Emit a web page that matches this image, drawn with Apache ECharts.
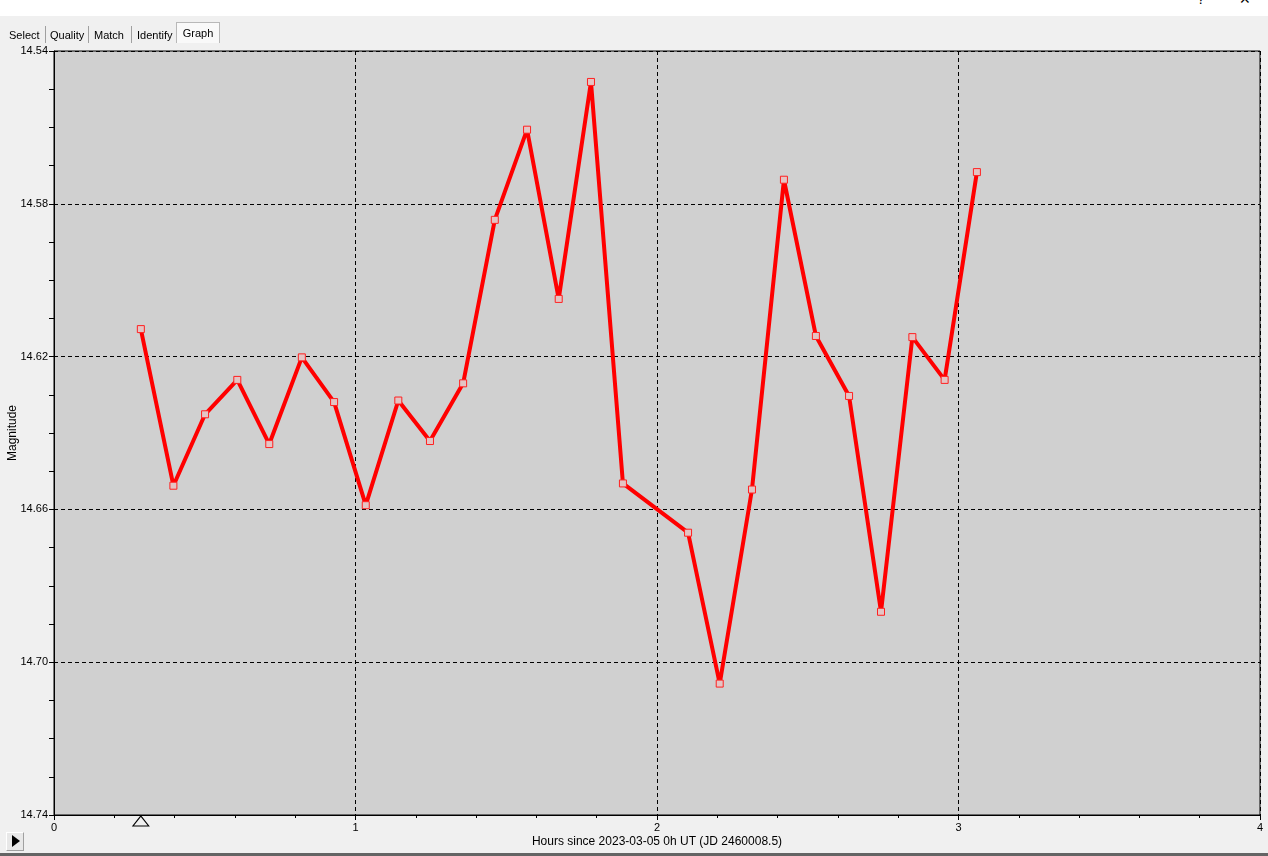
<!DOCTYPE html>
<html>
<head>
<meta charset="utf-8">
<script src="https://cdn.jsdelivr.net/npm/echarts@6/dist/echarts.min.js"></script>
<style>
  html, body { margin:0; padding:0; width:1268px; height:856px; overflow:hidden; background:#f0f0f0; font-family:"Liberation Sans", Arial, sans-serif; }
  #topbar { position:absolute; left:0; top:0; width:1268px; height:16px; background:#ffffff; z-index:2; overflow:hidden; }
  #topbar span { position:absolute; top:-9px; font-size:14px; color:#000; }
  #tabs { position:absolute; left:0; top:22px; height:22px; z-index:2; font-size:11px; color:#000; }
  .tab { position:absolute; top:5px; height:16px; line-height:16px; }
  .sep { position:absolute; top:4px; width:1px; height:17px; background:#a0a0a0; }
  #gtab { position:absolute; left:176px; top:0px; width:44px; height:21px; background:#f9f9f9; border:1px solid #b8b8b8; border-bottom:none; box-sizing:border-box; text-align:center; line-height:20px; }
  #play { position:absolute; left:6px; top:832px; width:18px; height:19px; background:#e8e8e8; border-top:1px solid #ffffff; border-left:1px solid #ffffff; border-right:1px solid #a0a0a0; border-bottom:1px solid #a0a0a0; box-sizing:border-box; z-index:2; }
  #play:after { content:""; position:absolute; left:5px; top:2px; border-left:8px solid #000; border-top:6px solid transparent; border-bottom:6px solid transparent; }
  #bottomline { position:absolute; left:0; top:853px; width:1268px; height:3px; background:#646464; z-index:2; }
  #chart { position:absolute; left:0; top:0; width:1268px; height:856px; z-index:1; }
</style>
</head>
<body>
<div id="topbar"><span style="left:1197px">?</span><span style="left:1239px">&#x2715;</span></div>
<div id="tabs">
  <div class="tab" style="left:9px">Select</div>
  <div class="sep" style="left:45px"></div>
  <div class="tab" style="left:50px">Quality</div>
  <div class="sep" style="left:88px"></div>
  <div class="tab" style="left:94px">Match</div>
  <div class="sep" style="left:131px"></div>
  <div class="tab" style="left:137px">Identify</div>
  <div id="gtab">Graph</div>
</div>
<div id="chart"></div>
<div id="play"></div>
<div id="bottomline"></div>
<script>
// Hours since 2023-03-05 0h UT
const hours = [0.288, 0.396, 0.501, 0.608, 0.714, 0.822, 0.929, 1.034, 1.142, 1.247,
               1.357, 1.462, 1.569, 1.674, 1.781, 1.887, 2.103, 2.208, 2.315, 2.421,
               2.527, 2.637, 2.743, 2.847, 2.954, 3.061];
// Magnitudes
const magnitude = [14.6128, 14.6538, 14.6351, 14.6261, 14.6429, 14.6202, 14.6319, 14.6589, 14.6315, 14.6421,
                   14.6270, 14.5842, 14.5606, 14.6049, 14.5481, 14.6532, 14.6661, 14.7056, 14.6548, 14.5737,
                   14.6146, 14.6303, 14.6868, 14.6149, 14.6261, 14.5717];
const xTicks = [0, 1, 2, 3, 4];
const yTickLabels = ['14.54', '14.58', '14.62', '14.66', '14.70', '14.74'];
const yBase = 14.54;   // axis top value; values plotted relative to it so ticks land on 14.54, 14.58 ...
const yRange = 0.2;

const chart = echarts.init(document.getElementById('chart'), null, { renderer: 'canvas' });
const seriesData = hours.map((h, i) => [h, +(magnitude[i] - yBase).toFixed(6)]);

const FONT = '"Liberation Sans", Arial, sans-serif';
chart.setOption({
  backgroundColor: 'transparent',
  animation: false,
  grid: { left: 54, top: 51, right: 8, bottom: 41, containLabel: false, outerBoundsMode: 'none', show: true, backgroundColor: '#d0d0d0', borderColor: '#000', borderWidth: 1 },
  xAxis: {
    type: 'value', min: xTicks[0], max: xTicks[xTicks.length - 1], interval: 1,
    name: 'Hours since 2023-03-05 0h UT (JD 2460008.5)', nameLocation: 'middle', nameGap: 21, nameMoveOverlap: false,
    nameTextStyle: { fontFamily: FONT, fontSize: 12, color: '#000' },
    axisLine: { show: true, onZero: false, lineStyle: { color: '#000', width: 1 } },
    axisTick: { show: true, inside: false, length: 5, lineStyle: { color: '#000' } },
    minorTick: { show: true, splitNumber: 5, length: 3, lineStyle: { color: '#000' } },
    axisLabel: { fontFamily: FONT, fontSize: 11, color: '#000', margin: 7, showMinLabel: true, showMaxLabel: true },
    splitLine: { show: true, lineStyle: { color: '#000', type: [4, 3], width: 1 } }
  },
  yAxis: {
    type: 'value', inverse: true, min: 0, max: yRange, interval: 0.04,
    name: 'Magnitude', nameLocation: 'middle', nameGap: 35, nameMoveOverlap: false,
    nameTextStyle: { fontFamily: FONT, fontSize: 12, color: '#000' },
    axisLine: { show: true, onZero: false, lineStyle: { color: '#000', width: 1 } },
    axisTick: { show: true, inside: false, length: 5, lineStyle: { color: '#000' } },
    minorTick: { show: true, splitNumber: 4, length: 5, lineStyle: { color: '#000' } },
    axisLabel: {
      fontFamily: FONT, fontSize: 11, color: '#000', margin: 6, showMinLabel: true, showMaxLabel: true,
      formatter: (v) => yTickLabels[Math.round(v / 0.04)] ?? (yBase + v).toFixed(2)
    },
    splitLine: { show: true, lineStyle: { color: '#000', type: [4, 3], width: 1 } }
  },
  series: [{
    type: 'line',
    data: seriesData,
    lineStyle: { color: '#ff0000', width: 4 },
    symbol: 'rect', symbolSize: 7, showSymbol: true,
    itemStyle: { color: '#e4c4c4', borderColor: '#ff2020', borderWidth: 1 },
    z: 3,
    markPoint: {
      silent: true,
      symbol: 'triangle', symbolSize: [16, 10], symbolOffset: [0, 6],
      label: { show: false },
      itemStyle: { color: '#f0f0f0', borderColor: '#000', borderWidth: 1 },
      data: [{ coord: [hours[0], yRange] }]
    }
  }]
});
</script>
</body>
</html>
